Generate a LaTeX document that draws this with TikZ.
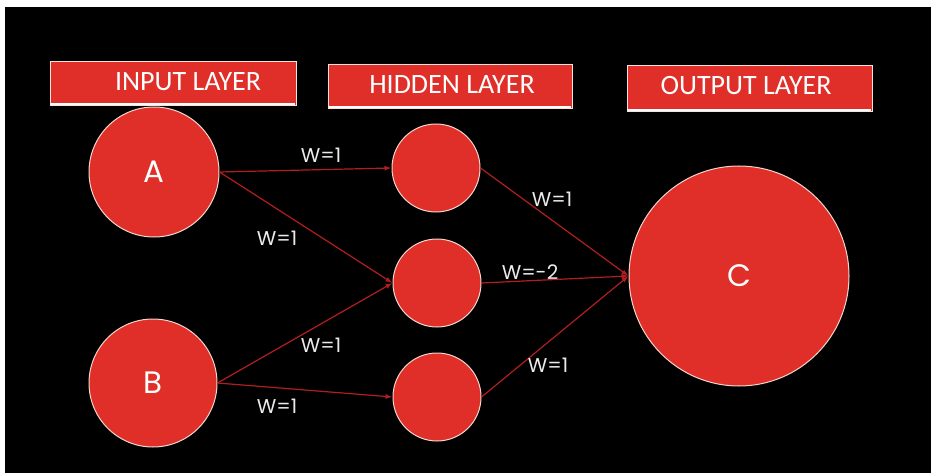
\documentclass[tikz,border=0pt]{standalone}
\usepackage{fontspec}
\setmainfont{Carlito}
\newfontfamily\geofont{Poppins}
\usetikzlibrary{arrows.meta}
\definecolor{netred}{RGB}{224,46,40}
\definecolor{wirered}{RGB}{178,30,30}
\definecolor{rimpink}{RGB}{245,215,205}
\definecolor{labelgray}{RGB}{235,235,235}
\tikzset{
  layerbox/.style={fill=netred, draw=white!85!netred, line width=0.8pt},
  unit/.style={circle, fill=netred, draw=rimpink, line width=1pt, inner sep=0pt,
    text=white, font=\geofont\fontsize{31}{31}\selectfont},
  boxtext/.style={text=white, font=\fontsize{28}{28}\selectfont, inner sep=0pt},
  wire/.style={draw=wirered, line width=1.2pt, -{Latex[length=7pt,width=5pt]}},
  weight/.style={text=labelgray, font=\geofont\fontsize{20}{20}\selectfont, inner sep=0pt}
}
\begin{document}
\begin{tikzpicture}[x=1pt,y=-1pt]
  % page: white margin with black panel
  \useasboundingbox (0,0) rectangle (931,473);
  \fill[white] (0,0) rectangle (931,473);
  \fill[black] (5,7) rectangle (931,473);

  % layer headers
  \draw[layerbox] (50,61) rectangle (296,105);
  \draw[white, line width=2.5pt] (51,104) -- (295,104);
  \node[boxtext] (tin) at (188,82) {INPUT LAYER};

  \draw[layerbox] (328,64) rectangle (572,108);
  \draw[white, line width=2.5pt] (329,107) -- (571,107);
  \node[boxtext] (thid) at (452,85) {HIDDEN LAYER};

  \draw[layerbox] (627,65) rectangle (872,111);
  \draw[white, line width=2.5pt] (628,110) -- (871,110);
  \node[boxtext] (tout) at (746,86) {OUTPUT LAYER};

  % neurons
  \node[unit, minimum size=130pt] (A) at (154,172) {A};
  \node[unit, minimum size=128pt] (B) at (153,383) {B};
  \node[unit, minimum size=88pt] (h1) at (436,168) {};
  \node[unit, minimum size=88pt] (h2) at (437,283) {};
  \node[unit, minimum size=88pt] (h3) at (437,397) {};
  \node[unit, minimum size=220pt] (C) at (739,276) {C};

  % weighted connections
  \draw[wire] (A.east) -- (h1.west);
  \draw[wire] (A.east) -- (h2.west);
  \draw[wire] (B.east) -- (h2.west);
  \draw[wire] (B.east) -- (h3.west);
  \draw[wire] (h1.east) -- (C.west);
  \draw[wire] (h2.east) -- (C.west);
  \draw[wire] (h3.east) -- (C.west);

  % weights
  \node[weight] (w1) at (321,155) {W=1};
  \node[weight] (w2) at (277,238) {W=1};
  \node[weight] (w3) at (321,345) {W=1};
  \node[weight] (w4) at (277,406) {W=1};
  \node[weight] (w5) at (552,199) {W=1};
  \node[weight] (w6) at (530,272) {W=-2};
  \node[weight] (w7) at (548,365) {W=1};
\end{tikzpicture}
\end{document}
